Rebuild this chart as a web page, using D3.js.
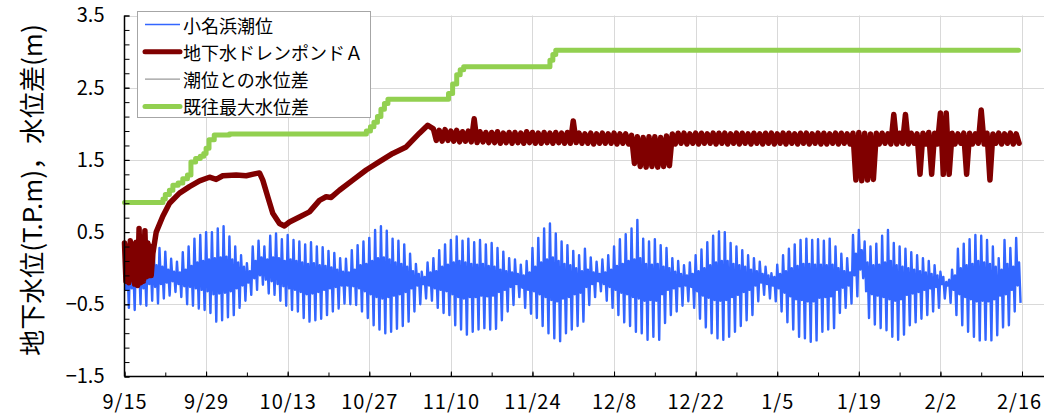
<!DOCTYPE html>
<html>
<head>
<meta charset="utf-8">
<script src="https://cdn.jsdelivr.net/npm/d3@7"></script>
<style>
  html, body { margin: 0; padding: 0; background: #fff; }
  svg { display: block; font-family: "Noto Sans CJK JP", "Noto Sans", sans-serif; }
</style>
</head>
<body>
<svg id="chart" width="1044" height="414"></svg>
<script>
// ---- axis labels --------------------------------------------------------
const startYear = 2019;
const xTickLabels = ["9/15", "9/29", "10/13", "10/27", "11/10", "11/24",
                     "12/8", "12/22", "1/5", "1/19", "2/2", "2/16"];
const yTickValues = [-1.5, -0.5, 0.5, 1.5, 2.5, 3.5];
const yTitle = "地下水位(T.P.m)，水位差(m)";
const legendLabels = ["小名浜潮位", "地下水ドレンポンドＡ", "潮位との水位差", "既往最大水位差"];

// ---- 小名浜潮位 (tide, m) : one row per day from 9/15 ----------------------
// higher high water
const tideHigh = [
  0.32, 0.28, 0.35, 0.30, 0.37, 0.33, 0.28, 0.23, 0.13, 0.09,
  0.22, 0.30, 0.41, 0.46, 0.50, 0.50, 0.55, 0.58, 0.44, 0.30,
  0.18, 0.07, 0.30, 0.38, 0.30, 0.45, 0.48, 0.40, 0.46, 0.39,
  0.37, 0.33, 0.36, 0.30, 0.29, 0.24, 0.21, 0.14, 0.13, 0.25,
  0.32, 0.37, 0.42, 0.53, 0.58, 0.52, 0.41, 0.38, 0.33, 0.20,
  0.06, -0.05, 0.08, 0.14, 0.25, 0.33, 0.39, 0.44, 0.38, 0.41,
  0.36, 0.39, 0.33, 0.35, 0.28, 0.23, 0.14, 0.12, 0.05, 0.10,
  0.28, 0.42, 0.55, 0.62, 0.48, 0.37, 0.32, 0.24, 0.18, 0.27,
  0.15, 0.09, 0.12, 0.18, 0.30, 0.40, 0.47, 0.55, 0.67, 0.41,
  0.37, 0.40, 0.32, 0.28, 0.14, 0.10, 0.04, 0.08, 0.18, 0.26,
  0.36, 0.45, 0.51, 0.50, 0.35, 0.30, 0.25, 0.18, 0.14, 0.09,
  0.02, -0.07, 0.05, 0.18, 0.27, 0.33, 0.39, 0.41, 0.39, 0.40,
  0.38, 0.41, 0.30, 0.20, 0.14, 0.46, 0.53, 0.37, 0.30, 0.34,
  0.45, 0.53, 0.35, 0.30, 0.27, 0.22, 0.18, 0.14, 0.10, 0.04,
  -0.05, -0.19, -0.02, 0.27, 0.34, 0.40, 0.46, 0.45, 0.39, 0.30,
  0.14, 0.39, 0.28, 0.42
];
// higher low water
const tideLow2 = [
  -0.30, -0.28, -0.25, -0.28, -0.22, -0.26, -0.22, -0.20, -0.18, -0.22,
  -0.25, -0.26, -0.28, -0.30, -0.32, -0.36, -0.35, -0.34, -0.32, -0.28,
  -0.24, -0.20, -0.14, -0.10, -0.16, -0.18, -0.22, -0.25, -0.28, -0.30,
  -0.33, -0.36, -0.35, -0.33, -0.30, -0.28, -0.26, -0.24, -0.24, -0.25,
  -0.28, -0.32, -0.36, -0.40, -0.42, -0.40, -0.38, -0.36, -0.33, -0.28,
  -0.24, -0.22, -0.24, -0.28, -0.30, -0.32, -0.36, -0.40, -0.42, -0.40,
  -0.40, -0.38, -0.39, -0.38, -0.33, -0.30, -0.26, -0.22, -0.27, -0.30,
  -0.32, -0.36, -0.40, -0.44, -0.46, -0.42, -0.40, -0.36, -0.34, -0.26,
  -0.22, -0.18, -0.22, -0.26, -0.30, -0.34, -0.36, -0.40, -0.42, -0.45,
  -0.44, -0.45, -0.36, -0.30, -0.28, -0.25, -0.24, -0.26, -0.32, -0.38,
  -0.41, -0.44, -0.45, -0.44, -0.40, -0.37, -0.33, -0.30, -0.24, -0.20,
  -0.22, -0.24, -0.28, -0.34, -0.39, -0.43, -0.44, -0.46, -0.46, -0.41,
  -0.40, -0.39, -0.30, -0.27, -0.24, -0.10, -0.02, -0.32, -0.36, -0.38,
  -0.40, -0.43, -0.45, -0.43, -0.37, -0.35, -0.33, -0.30, -0.28, -0.26,
  -0.22, -0.24, -0.30, -0.36, -0.40, -0.43, -0.46, -0.45, -0.46, -0.43,
  -0.38, -0.36, -0.30, -0.24
];
// lower high water
const tideHigh2 = [
  0.05, 0.02, 0.06, 0.03, 0.08, 0.04, 0.02, -0.02, -0.05, -0.06,
  -0.02, 0.03, 0.08, 0.10, 0.12, 0.14, 0.15, 0.16, 0.12, 0.08,
  0.02, -0.04, 0.10, 0.15, 0.12, 0.15, 0.14, 0.10, 0.12, 0.10,
  0.08, 0.06, 0.07, 0.04, 0.03, 0.01, -0.02, -0.05, -0.06, -0.02,
  0.04, 0.06, 0.10, 0.14, 0.15, 0.12, 0.08, 0.06, 0.02, -0.04,
  -0.08, -0.12, -0.06, -0.04, 0.02, 0.05, 0.08, 0.10, 0.08, 0.06,
  0.05, 0.06, 0.03, 0.02, -0.02, -0.04, -0.06, -0.08, -0.10, -0.06,
  0.02, 0.08, 0.12, 0.15, 0.10, 0.06, 0.04, 0.00, -0.04, -0.02,
  -0.06, -0.08, -0.06, -0.02, 0.03, 0.06, 0.10, 0.12, 0.14, 0.06,
  0.05, 0.06, 0.02, 0.00, -0.05, -0.08, -0.10, -0.08, -0.04, 0.00,
  0.04, 0.08, 0.10, 0.10, 0.06, 0.04, 0.02, -0.02, -0.04, -0.08,
  -0.10, -0.12, -0.08, -0.04, 0.00, 0.03, 0.06, 0.06, 0.05, 0.05,
  0.04, 0.05, 0.00, -0.04, -0.06, 0.20, 0.25, 0.08, 0.04, 0.05,
  0.08, 0.10, 0.04, 0.02, 0.00, -0.02, -0.04, -0.06, -0.08, -0.10,
  -0.12, -0.16, -0.10, 0.00, 0.04, 0.06, 0.10, 0.08, 0.06, 0.02,
  -0.02, 0.06, 0.02, 0.08
];
// lower low water
const tideLow = [
  -0.55, -0.58, -0.50, -0.52, -0.45, -0.49, -0.42, -0.38, -0.33, -0.40,
  -0.50, -0.52, -0.56, -0.58, -0.62, -0.74, -0.72, -0.68, -0.65, -0.55,
  -0.45, -0.37, -0.30, -0.23, -0.35, -0.37, -0.45, -0.52, -0.58, -0.60,
  -0.69, -0.74, -0.72, -0.70, -0.65, -0.60, -0.56, -0.49, -0.50, -0.51,
  -0.60, -0.69, -0.79, -0.85, -0.90, -0.88, -0.84, -0.80, -0.74, -0.60,
  -0.50, -0.42, -0.45, -0.55, -0.62, -0.65, -0.79, -0.85, -0.92, -0.88,
  -0.85, -0.83, -0.85, -0.84, -0.72, -0.60, -0.51, -0.40, -0.55, -0.63,
  -0.69, -0.80, -0.90, -0.97, -1.01, -0.90, -0.85, -0.80, -0.74, -0.51,
  -0.40, -0.32, -0.45, -0.55, -0.65, -0.75, -0.80, -0.88, -0.90, -0.99,
  -0.95, -0.99, -0.76, -0.65, -0.60, -0.52, -0.46, -0.55, -0.70, -0.82,
  -0.90, -0.97, -0.99, -0.95, -0.88, -0.80, -0.72, -0.65, -0.46, -0.37,
  -0.42, -0.46, -0.60, -0.75, -0.85, -0.95, -0.97, -1.02, -1.00, -0.88,
  -0.85, -0.83, -0.62, -0.55, -0.49, -0.39, -0.14, -0.69, -0.78, -0.83,
  -0.86, -0.95, -0.99, -0.92, -0.79, -0.75, -0.70, -0.65, -0.60, -0.55,
  -0.42, -0.48, -0.65, -0.79, -0.88, -0.95, -1.00, -0.99, -1.00, -0.93,
  -0.82, -0.79, -0.60, -0.48
];

// ---- 地下水ドレンポンドA (m) ----------------------------------------------
// first days, four readings a day
const drainEarly = [0.35, -0.18, 0.30, -0.20, 0.38, -0.15, 0.33, -0.22,
                    0.36, -0.24, 0.55, -0.20, 0.40, -0.18, 0.52, -0.12,
                    0.35, -0.10, 0.30];
// smooth recovery (day from 9/15, level)
const drainDays = [4.58, 4.86, 5.44, 6.57, 7.72, 9.44, 11.15, 12.87, 14.58, 15.73,
                   16.86, 19.16, 20.88, 22.5, 23.16, 23.73, 24.58, 25.44, 26.59, 27.45,
                   28.31, 30.02, 31.74, 33.45, 34.6, 35.46, 36.88, 39.17, 41.47, 43.75,
                   46.03, 48.33, 50.61, 52.03];
const drainLevels = [-0.10, 0.20, 0.50, 0.72, 0.90, 1.04, 1.13, 1.21, 1.26, 1.23,
                     1.28, 1.29, 1.28, 1.31, 1.32, 1.22, 0.99, 0.76, 0.62, 0.585,
                     0.64, 0.71, 0.78, 0.94, 0.99, 0.98, 1.08, 1.22, 1.36, 1.475,
                     1.59, 1.68, 1.87, 1.98];
// daily high / low from day 53 on
const drainBandStart = 53;
const drainBandHi = [
  1.93, 1.91, 1.92, 1.90, 1.91, 1.89, 1.90, 2.07, 1.89, 1.88,
  1.88, 1.89, 1.87, 1.88, 1.88, 1.87, 1.89, 1.88, 1.87, 1.88,
  1.87, 1.88, 1.87, 1.88, 2.04, 1.87, 1.86, 1.87, 1.86, 1.87,
  1.86, 1.87, 1.86, 1.86, 1.84, 1.82, 1.81, 1.82, 1.82, 1.81,
  1.83, 1.86, 1.87, 1.87, 1.86, 1.87, 1.87, 1.86, 1.87, 1.87,
  1.87, 1.86, 1.87, 1.87, 1.86, 1.87, 1.86, 1.87, 1.87, 1.86,
  1.87, 1.87, 1.86, 1.87, 1.87, 1.86, 1.87, 1.87, 1.86, 1.87,
  1.87, 1.86, 1.87, 1.88, 1.87, 1.86, 1.87, 1.87, 1.86, 2.13,
  1.87, 2.13, 1.87, 1.86, 1.87, 1.88, 1.87, 2.15, 2.15, 1.87,
  1.86, 1.87, 1.87, 1.86, 2.19, 1.87, 1.86, 1.87, 1.86, 1.87,
  1.86
];
const drainBandLo = [
  1.77, 1.76, 1.77, 1.76, 1.75, 1.76, 1.75, 1.74, 1.75, 1.74,
  1.74, 1.73, 1.74, 1.73, 1.74, 1.73, 1.74, 1.73, 1.73, 1.74,
  1.73, 1.74, 1.73, 1.73, 1.74, 1.73, 1.73, 1.72, 1.73, 1.73,
  1.73, 1.72, 1.73, 1.72, 1.45, 1.41, 1.40, 1.41, 1.40, 1.41,
  1.42, 1.72, 1.73, 1.72, 1.73, 1.72, 1.73, 1.73, 1.72, 1.73,
  1.72, 1.73, 1.72, 1.73, 1.72, 1.73, 1.72, 1.73, 1.72, 1.73,
  1.72, 1.73, 1.72, 1.73, 1.72, 1.73, 1.72, 1.72, 1.73, 1.72,
  1.73, 1.72, 1.22, 1.21, 1.22, 1.23, 1.72, 1.73, 1.72, 1.72,
  1.73, 1.72, 1.73, 1.30, 1.72, 1.30, 1.72, 1.30, 1.30, 1.72,
  1.73, 1.30, 1.72, 1.73, 1.72, 1.22, 1.73, 1.72, 1.73, 1.72,
  1.73
];

// ---- 既往最大水位差 (running maximum, m) ----------------------------------
const maxDiffDays = [0, 6.6, 7.0, 7.7, 8.3, 9.2, 10.0, 10.8, 11.4, 12.2,
                     13.0, 13.6, 14.0, 14.5, 15.4, 18.0, 41.5, 42.2, 42.8, 43.4,
                     44.0, 44.6, 45.2, 55.6, 56.3, 57.0, 57.6, 58.2, 73.0, 73.5,
                     74.0, 153.4];
const maxDiffLevels = [0.91, 0.96, 1.02, 1.08, 1.15, 1.18, 1.24, 1.29, 1.47, 1.52,
                       1.55, 1.59, 1.66, 1.78, 1.845, 1.86, 1.90, 1.96, 2.02, 2.10,
                       2.20, 2.28, 2.34, 2.42, 2.55, 2.68, 2.75, 2.79, 2.88, 2.96,
                       3.02, 3.02];

// ---- colours ------------------------------------------------------------
const colTide = "#3366ff", colDrain = "#800000", colDiff = "#808080", colMax = "#92d050";

// ---- helpers ------------------------------------------------------------
const toDate = s => {
  const [m, d] = s.split("/").map(Number);
  return new Date(Date.UTC(m >= 9 ? startYear : startYear + 1, m - 1, d));
};
const t0 = toDate(xTickLabels[0]);
const tEnd = toDate(xTickLabels[xTickLabels.length - 1]);
const dayToDate = d => new Date(t0.getTime() + d * 86400000);

// ---- layout -------------------------------------------------------------
const svg = d3.select("#chart");
const plotL = 124.5, plotR = 1044, plotT = 15.5, plotB = 376.5;

const x = d3.scaleUtc().domain([t0, tEnd]).range([plotL, 1022]);
const y = d3.scaleLinear().domain([yTickValues[0], yTickValues[yTickValues.length - 1]])
  .range([plotB, plotT]);

// grid
const grid = svg.append("g").attr("stroke", "#d9d9d9").attr("stroke-width", 1);
xTickLabels.slice(1).forEach(s => {
  const gx = Math.round(x(toDate(s))) + 0.5;
  grid.append("line").attr("x1", gx).attr("x2", gx).attr("y1", plotT).attr("y2", plotB);
});
yTickValues.slice(1).forEach(v => {
  const gy = Math.round(y(v)) + 0.5;
  grid.append("line").attr("x1", plotL).attr("x2", plotR).attr("y1", gy).attr("y2", gy);
});

// ---- series -------------------------------------------------------------
const line = d3.line().x(p => x(dayToDate(p[0]))).y(p => y(p[1]));

// tide: HH, HL, LH, LL through each day
const tidePts = [];
tideHigh.forEach((h, d) => {
  tidePts.push([d, h], [d + 0.25, tideLow2[d]], [d + 0.5, tideHigh2[d]], [d + 0.75, tideLow[d]]);
});
svg.append("path").datum(tidePts).attr("d", line)
  .attr("fill", "none").attr("stroke", colTide).attr("stroke-width", 2.4)
  .attr("stroke-linejoin", "round");

// running maximum of level difference
const maxPts = maxDiffDays.map((d, i) => [d, maxDiffLevels[i]]);
svg.append("path").datum(maxPts).attr("d", line.curve(d3.curveStepAfter))
  .attr("fill", "none").attr("stroke", colMax).attr("stroke-width", 5)
  .attr("stroke-linejoin", "round").attr("stroke-linecap", "round");
line.curve(d3.curveLinear);

// drain pond level
const drainPts = [];
drainEarly.forEach((v, i) => drainPts.push([i * 0.25, v]));
drainDays.forEach((d, i) => drainPts.push([d, drainLevels[i]]));
drainBandHi.forEach((h, i) => {
  const d = drainBandStart + i;
  drainPts.push([d, h], [d + 0.5, drainBandLo[i]]);
});
svg.append("path").datum(drainPts).attr("d", line)
  .attr("fill", "none").attr("stroke", colDrain).attr("stroke-width", 5.5)
  .attr("stroke-linejoin", "round").attr("stroke-linecap", "round");

// ---- axes ---------------------------------------------------------------
const axisFont = g => g.selectAll("text")
  .attr("font-family", '"Noto Sans CJK JP", sans-serif').attr("font-size", 20).attr("fill", "#000");

// y: labelled ticks + 0.2 minor ticks, drawn inward
const yMinor = d3.range(0, 26).map(k => +(yTickValues[0] + 0.2 * k).toFixed(1));
const gyMinor = svg.append("g").attr("transform", `translate(${plotL},0)`)
  .call(d3.axisLeft(y).tickValues(yMinor).tickSize(-5).tickFormat(""));
gyMinor.select(".domain").remove();
gyMinor.selectAll("line").attr("stroke", "#000");
const gyAxis = svg.append("g").attr("transform", `translate(${plotL},0)`)
  .call(d3.axisLeft(y).tickValues(yTickValues).tickSize(-5).tickPadding(20)
    .tickFormat(d3.format(".1f")));
gyAxis.select(".domain").remove();
gyAxis.selectAll("line").attr("stroke", "#000");
axisFont(gyAxis);

// x: labelled ticks every 14 days, minor every 7 days, drawn inward
const xMinor = d3.utcDay.range(t0, d3.utcDay.offset(tEnd, 1), 7);
const gxMinor = svg.append("g").attr("transform", `translate(0,${plotB})`)
  .call(d3.axisBottom(x).tickValues(xMinor).tickSize(-4).tickFormat(""));
gxMinor.select(".domain").remove();
gxMinor.selectAll("line").attr("stroke", "#000");
const gxAxis = svg.append("g").attr("transform", `translate(0,${plotB})`)
  .call(d3.axisBottom(x).tickValues(xTickLabels.map(toDate)).tickSize(-5).tickPadding(18)
    .tickFormat((d, i) => xTickLabels[i]));
gxAxis.select(".domain").remove();
gxAxis.selectAll("line").attr("stroke", "#000");
axisFont(gxAxis);
gxAxis.selectAll("text").attr("letter-spacing", 1);
// keep the last date label inside the page
gxAxis.selectAll("text").filter((d, i) => i === xTickLabels.length - 1).attr("dx", -3);

// axis lines
svg.append("line").attr("x1", plotL).attr("x2", plotL).attr("y1", plotT).attr("y2", plotB)
  .attr("stroke", "#000").attr("stroke-width", 1.5);
svg.append("line").attr("x1", plotL).attr("x2", plotR).attr("y1", plotB).attr("y2", plotB)
  .attr("stroke", "#000").attr("stroke-width", 1.5);

// y title
svg.append("text")
  .attr("transform", "translate(30,190) rotate(-90)")
  .attr("text-anchor", "middle").attr("dominant-baseline", "central")
  .attr("font-size", 26).attr("fill", "#000").text(yTitle);

// ---- legend -------------------------------------------------------------
const legend = svg.append("g");
legend.append("rect").attr("x", 137.5).attr("y", 11.5).attr("width", 233).attr("height", 106)
  .attr("fill", "#fff").attr("stroke", "#a6a6a6").attr("stroke-width", 1);
const legendStyle = [
  { color: colTide, width: 1.5 },
  { color: colDrain, width: 5 },
  { color: colDiff, width: 1 },
  { color: colMax, width: 5 }
];
legendLabels.forEach((label, i) => {
  const ly = 24.5 + i * 27.3;
  legend.append("line").attr("x1", 145).attr("x2", 180).attr("y1", ly).attr("y2", ly)
    .attr("stroke", legendStyle[i].color).attr("stroke-width", legendStyle[i].width)
    .attr("stroke-linecap", legendStyle[i].width > 2 ? "round" : "butt");
  legend.append("text").attr("x", 183).attr("y", ly).attr("dominant-baseline", "central")
    .attr("font-size", 18).attr("fill", "#000").text(label);
});
</script>
</body>
</html>
